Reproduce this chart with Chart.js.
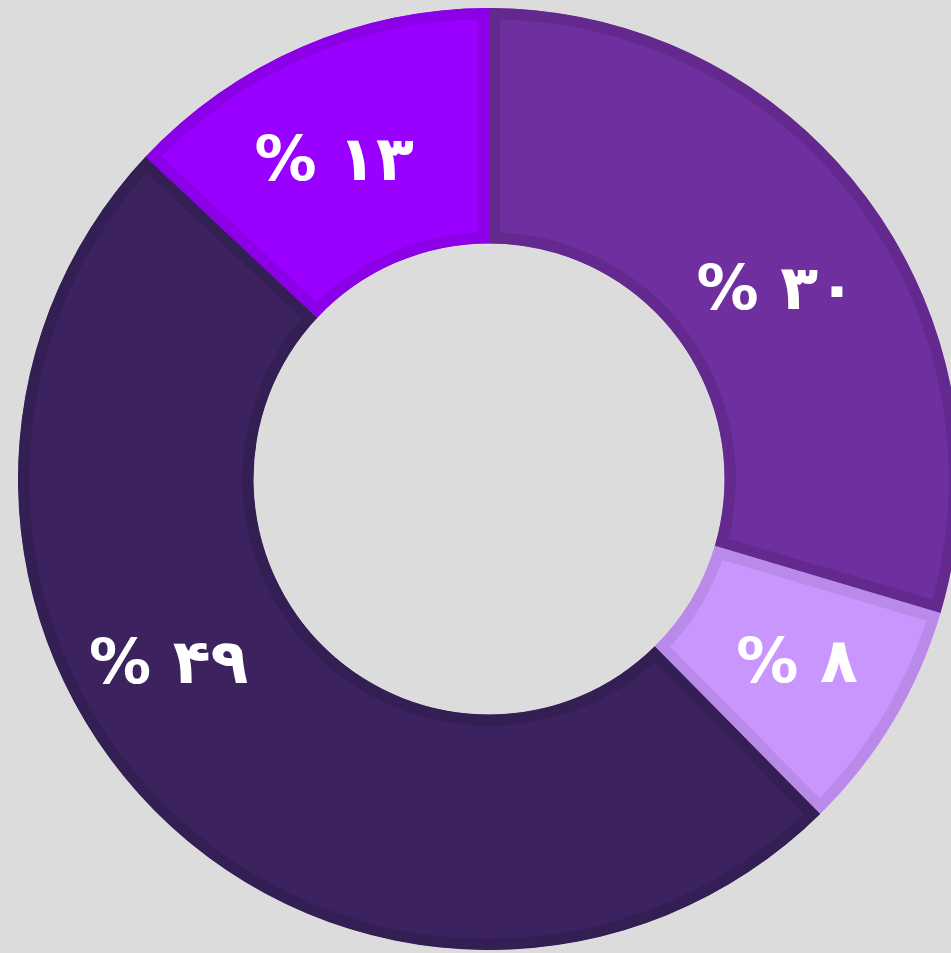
<!DOCTYPE html>
<html>
<head>
<meta charset="utf-8">
<script src="https://cdn.jsdelivr.net/npm/chart.js@4/dist/chart.umd.min.js"></script>
<style>
  html, body { margin: 0; padding: 0; background: #dcdcdc; overflow: hidden; }
  #wrap { position: absolute; left: 0; top: 0; width: 978px; height: 958px; }
</style>
</head>
<body>
<div id="wrap"><canvas id="shareChart"></canvas></div>
<script>
const categories = ['A', 'B', 'C', 'D'];
const shares = [29.6, 8.0, 49.4, 13.0];
const fillColors = ['#6f2f9f', '#c996fd', '#3c2360', '#9900ff'];
const edgeColors = ['#64298f', '#b98ae9', '#341f55', '#8b00e6'];

const faDigits = '۰۱۲۳۴۵۶۷۸۹';
const toFa = n => String(n).replace(/\d/g, d => faDigits[d]);
const percentLabels = shares.map(v => '% ' + toFa(Math.round(v)));

// nudges for label placement (degrees, px), relative to slice middle
const labelTurn = [3.5, 0, 15.6, -2.6];
const labelPush = [-10, 6, 17, 0];

const sliceLabels = {
  id: 'sliceLabels',
  afterDatasetsDraw(chart) {
    const ctx = chart.ctx;
    const arcs = chart.getDatasetMeta(0).data;
    ctx.save();
    ctx.fillStyle = '#ffffff';
    ctx.font = 'bold 62px "DejaVu Sans"';
    ctx.textAlign = 'center';
    ctx.textBaseline = 'middle';
    ctx.direction = 'ltr';
    arcs.forEach((arc, i) => {
      const p = arc.getProps(['x', 'y', 'startAngle', 'endAngle', 'innerRadius', 'outerRadius'], true);
      const a = (p.startAngle + p.endAngle) / 2 + labelTurn[i] * Math.PI / 180;
      const r = (p.innerRadius + p.outerRadius) / 2 + labelPush[i];
      ctx.fillText(percentLabels[i], p.x + Math.cos(a) * r, p.y + Math.sin(a) * r + 2);
    });
    ctx.restore();
  }
};

new Chart(document.getElementById('shareChart'), {
  type: 'doughnut',
  data: {
    labels: categories,
    datasets: [{
      data: shares,
      backgroundColor: fillColors,
      borderColor: edgeColors,
      borderWidth: 11,
      borderAlign: 'inner',
      hoverOffset: 0,
      hoverBorderWidth: 11
    }]
  },
  options: {
    responsive: true,
    maintainAspectRatio: false,
    animation: false,
    cutout: '50%',
    layout: { padding: 8 },
    plugins: {
      legend: { display: false },
      tooltip: { enabled: false }
    }
  },
  plugins: [sliceLabels]
});
</script>
</body>
</html>
